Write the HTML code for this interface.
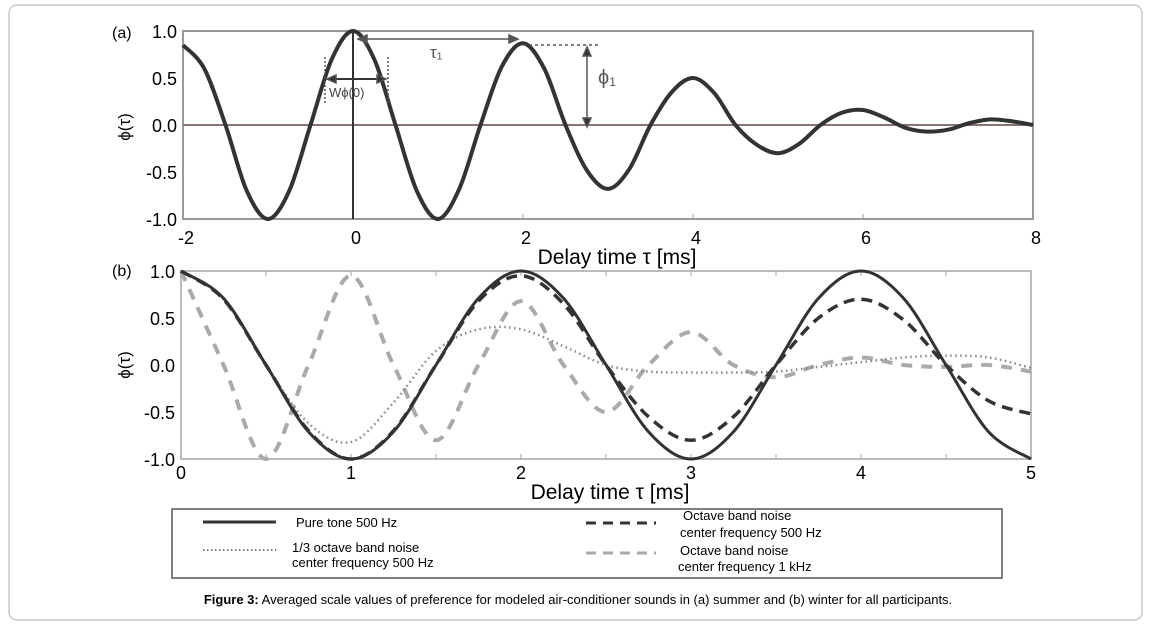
<!DOCTYPE html>
<html><head><meta charset="utf-8"><style>
body{margin:0;background:#fff;}
svg{display:block;font-family:"Liberation Sans",Arial,sans-serif;}
</style></head><body>
<svg id="fig" width="1151" height="625" viewBox="0 0 1151 625">
<rect x="9" y="5" width="1133" height="615" rx="8" fill="#fff" stroke="#c8c8c8" stroke-width="1.5"/>
<g id="pa"></g>
<g id="pb"></g>
<g>
<rect x="172" y="509" width="830" height="69" fill="#fff" stroke="#555" stroke-width="1.5"/>
<line x1="203" y1="522" x2="276" y2="522" stroke="#333" stroke-width="3"/>
<text x="296" y="527" font-size="13">Pure tone 500 Hz</text>
<line x1="203" y1="550" x2="276" y2="550" stroke="#777" stroke-width="2" stroke-dasharray="1.5,2.5"/>
<text x="292" y="552" font-size="13">1/3 octave band noise</text>
<text x="292" y="567" font-size="13">center frequency 500 Hz</text>
<line x1="586" y1="523" x2="656" y2="523" stroke="#333" stroke-width="3" stroke-dasharray="10,7"/>
<text x="683" y="520" font-size="13">Octave band noise</text>
<text x="680" y="537" font-size="13">center frequency 500 Hz</text>
<line x1="586" y1="553" x2="656" y2="553" stroke="#aaa" stroke-width="3" stroke-dasharray="10,7"/>
<text x="680" y="555" font-size="13">Octave band noise</text>
<text x="678" y="571" font-size="13">center frequency 1 kHz</text>
</g>
<text x="578" y="604" font-size="13" text-anchor="middle"><tspan font-weight="bold">Figure 3:</tspan> Averaged scale values of preference for modeled air-conditioner sounds in (a) summer and (b) winter for all participants.</text>
</svg>
<script>
// Panel (a) data: tau from -2 to 8, step 0.25
const aStart = -2, aStep = 0.25;
const aValues = [0.85,0.6,0,-0.7,-1,-0.7,0,0.7,1,0.7,0,-0.7,-1,-0.68,0,0.62,0.87,0.6,0,-0.48,-0.68,-0.47,0,0.35,0.5,0.34,0,-0.21,-0.3,-0.2,0,0.13,0.16,0.08,-0.03,-0.07,-0.05,0.02,0.06,0.04,0];
const aXTicks = [-2,0,2,4,6,8];
const yTicks = [1.0,0.5,0.0,-0.5,-1.0];
// Panel (b) data: tau from 0 to 5, step 0.25
const bStart = 0, bStep = 0.25;
const bPure = [1,0.71,0,-0.71,-1,-0.71,0,0.71,1,0.71,0,-0.71,-1,-0.71,0,0.71,1,0.71,0,-0.71,-1];
const bThird = [1,0.7,0,-0.62,-0.82,-0.4,0.15,0.38,0.38,0.2,0,-0.07,-0.08,-0.08,-0.07,-0.02,0.03,0.08,0.1,0.08,-0.03];
const bOct500 = [1,0.7,0,-0.7,-1,-0.7,0,0.68,0.95,0.65,0,-0.55,-0.8,-0.55,0,0.5,0.7,0.48,0,-0.38,-0.52];
const bOct1k = [1,0,-1,0,0.95,0,-0.8,0,0.68,0,-0.5,0,0.35,0,-0.13,0,0.08,0,-0.02,0,-0.07];
const bXTicks = [0,1,2,3,4,5];

const NS="http://www.w3.org/2000/svg";
function mk(parent,tag,attrs){const e=document.createElementNS(NS,tag);for(const k in attrs)e.setAttribute(k,attrs[k]);parent.appendChild(e);return e;}
function pathFrom(pts){let d="M"+pts[0][0]+","+pts[0][1];for(let i=0;i<pts.length-1;i++){const p0=pts[Math.max(i-1,0)],p1=pts[i],p2=pts[i+1],p3=pts[Math.min(i+2,pts.length-1)];const c1=[p1[0]+(p2[0]-p0[0])/6,p1[1]+(p2[1]-p0[1])/6],c2=[p2[0]-(p3[0]-p1[0])/6,p2[1]-(p3[1]-p1[1])/6];d+=" C"+c1+" "+c2+" "+p2;}return d;}

// Panel A
const pa=document.getElementById('pa');
const aX0=183,aX1=1033,aY0=31,aY1=219,aMin=-2,aMax=8;
const ax=v=>aX0+(v-aMin)/(aMax-aMin)*(aX1-aX0);
const ay=v=>(aY0+aY1)/2-v*(aY1-aY0)/2;
let r=mk(pa,'rect',{x:aX0,y:aY0,width:aX1-aX0,height:aY1-aY0,fill:'none',stroke:'#999','stroke-width':2});


aXTicks.forEach(t=>{const l=mk(pa,'line',{x1:ax(t),y1:aY1,x2:ax(t),y2:aY1-5,stroke:'#999'});
const tx=mk(pa,'text',{x:ax(t)+3,y:aY1+25,'font-size':18,'text-anchor':'middle'});tx.textContent=t;});
yTicks.forEach(t=>{const tx=mk(pa,'text',{x:aX0-6,y:ay(t)+7,'font-size':18,'text-anchor':'end'});tx.textContent=t.toFixed(1);});
let zl=mk(pa,'line',{x1:aX0,y1:ay(0),x2:aX1,y2:ay(0),stroke:'#8a7370','stroke-width':2});


let vl=mk(pa,'line',{x1:ax(0),y1:aY0,x2:ax(0),y2:aY1,stroke:'#333','stroke-width':2});


let ca=mk(pa,'path',{d:pathFrom(aValues.map((v,i)=>[ax(aStart+i*aStep),ay(v)])),fill:'none',stroke:'#333','stroke-width':4});


// annotations
let an=mk(pa,'g',{stroke:'#555','stroke-width':1.5,fill:'none'});


mk(an,'line',{x1:ax(0)+5,y1:39,x2:ax(2)-5,y2:39});
mk(an,'path',{d:`M${ax(2)-5},39 l-9,-4 v8 z`,fill:'#555'});
mk(an,'path',{d:`M${ax(0)+5},39 l9,-4 v8 z`,fill:'#555'});
mk(an,'line',{x1:ax(2),y1:45,x2:598,y2:45,'stroke-dasharray':'3,3'});
mk(an,'line',{x1:587,y1:48,x2:587,y2:125});
mk(an,'path',{d:'M587,47 l-4,9 h8 z M587,127 l-4,-9 h8 z',fill:'#333'});
mk(an,'line',{x1:325,y1:57,x2:325,y2:105,'stroke-dasharray':'2,2'});
mk(an,'line',{x1:388,y1:57,x2:388,y2:105,'stroke-dasharray':'2,2'});
mk(an,'line',{x1:327,y1:79,x2:386,y2:79,stroke:'#333','stroke-width':2});
mk(an,'path',{d:'M327,79 l9,-4 v8 z M386,79 l-9,-4 v8 z',fill:'#333'});
const at=[['τ₁',430,58,17,'#555'],['ϕ₁',598,84,20,'#555'],['Wϕ(0)',329,97,13,'#444']];
at.forEach(a=>{const t=mk(pa,'text',{x:a[1],y:a[2],'font-size':a[3],fill:a[4]});t.textContent=a[0];});
let la=mk(pa,'text',{x:112,y:38,'font-size':16});la.textContent='(a)';


let yla=mk(pa,'text',{x:0,y:0,'font-size':17,transform:'translate(130,127) rotate(-90)','text-anchor':'middle'});yla.textContent='ϕ(τ)';


let xla=mk(pa,'text',{x:617,y:264,'font-size':21,'text-anchor':'middle'});xla.textContent='Delay time τ [ms]';



// Panel B
const pb=document.getElementById('pb');
const bX0=181,bX1=1031,bY0=271,bY1=459,bMin=0,bMax=5;
const bx=v=>bX0+(v-bMin)/(bMax-bMin)*(bX1-bX0);
const by=v=>(bY0+bY1)/2-v*(bY1-bY0)/2;
let rb=mk(pb,'rect',{x:bX0,y:bY0,width:bX1-bX0,height:bY1-bY0,fill:'none',stroke:'#bbb','stroke-width':2});


bXTicks.forEach(t=>{const tx=mk(pb,'text',{x:bx(t),y:bY1+20,'font-size':18,'text-anchor':'middle'});tx.textContent=t;});
for(let t=0.5;t<5;t+=0.5){const l=mk(pb,'line',{x1:bx(t),y1:bY1,x2:bx(t),y2:bY1-5,stroke:'#aaa'});const l2=mk(pb,'line',{x1:bx(t),y1:bY0,x2:bx(t),y2:bY0+5,stroke:'#aaa'});}
yTicks.forEach(t=>{const tx=mk(pb,'text',{x:bX0-6,y:by(t)+7,'font-size':18,'text-anchor':'end'});tx.textContent=t.toFixed(1);});
const series=[[bOct1k,'#aaa',4,'11,9','series-octave-1k'],[bThird,'#888',2.5,'1.5,3.5','series-third-octave'],[bOct500,'#333',3.5,'11,7','series-octave-500'],[bPure,'#333',3,'','series-pure-tone']];
series.forEach(s=>{const p=mk(pb,'path',{d:pathFrom(s[0].map((v,i)=>[bx(bStart+i*bStep),by(v)])),fill:'none',stroke:s[1],'stroke-width':s[2]});if(s[3])p.setAttribute('stroke-dasharray',s[3]);

});
let lb=mk(pb,'text',{x:112,y:276,'font-size':16});lb.textContent='(b)';


let ylb=mk(pb,'text',{x:0,y:0,'font-size':17,transform:'translate(130,365) rotate(-90)','text-anchor':'middle'});ylb.textContent='ϕ(τ)';


let xlb=mk(pb,'text',{x:610,y:499,'font-size':21,'text-anchor':'middle'});xlb.textContent='Delay time τ [ms]';


</script>
</body></html>
